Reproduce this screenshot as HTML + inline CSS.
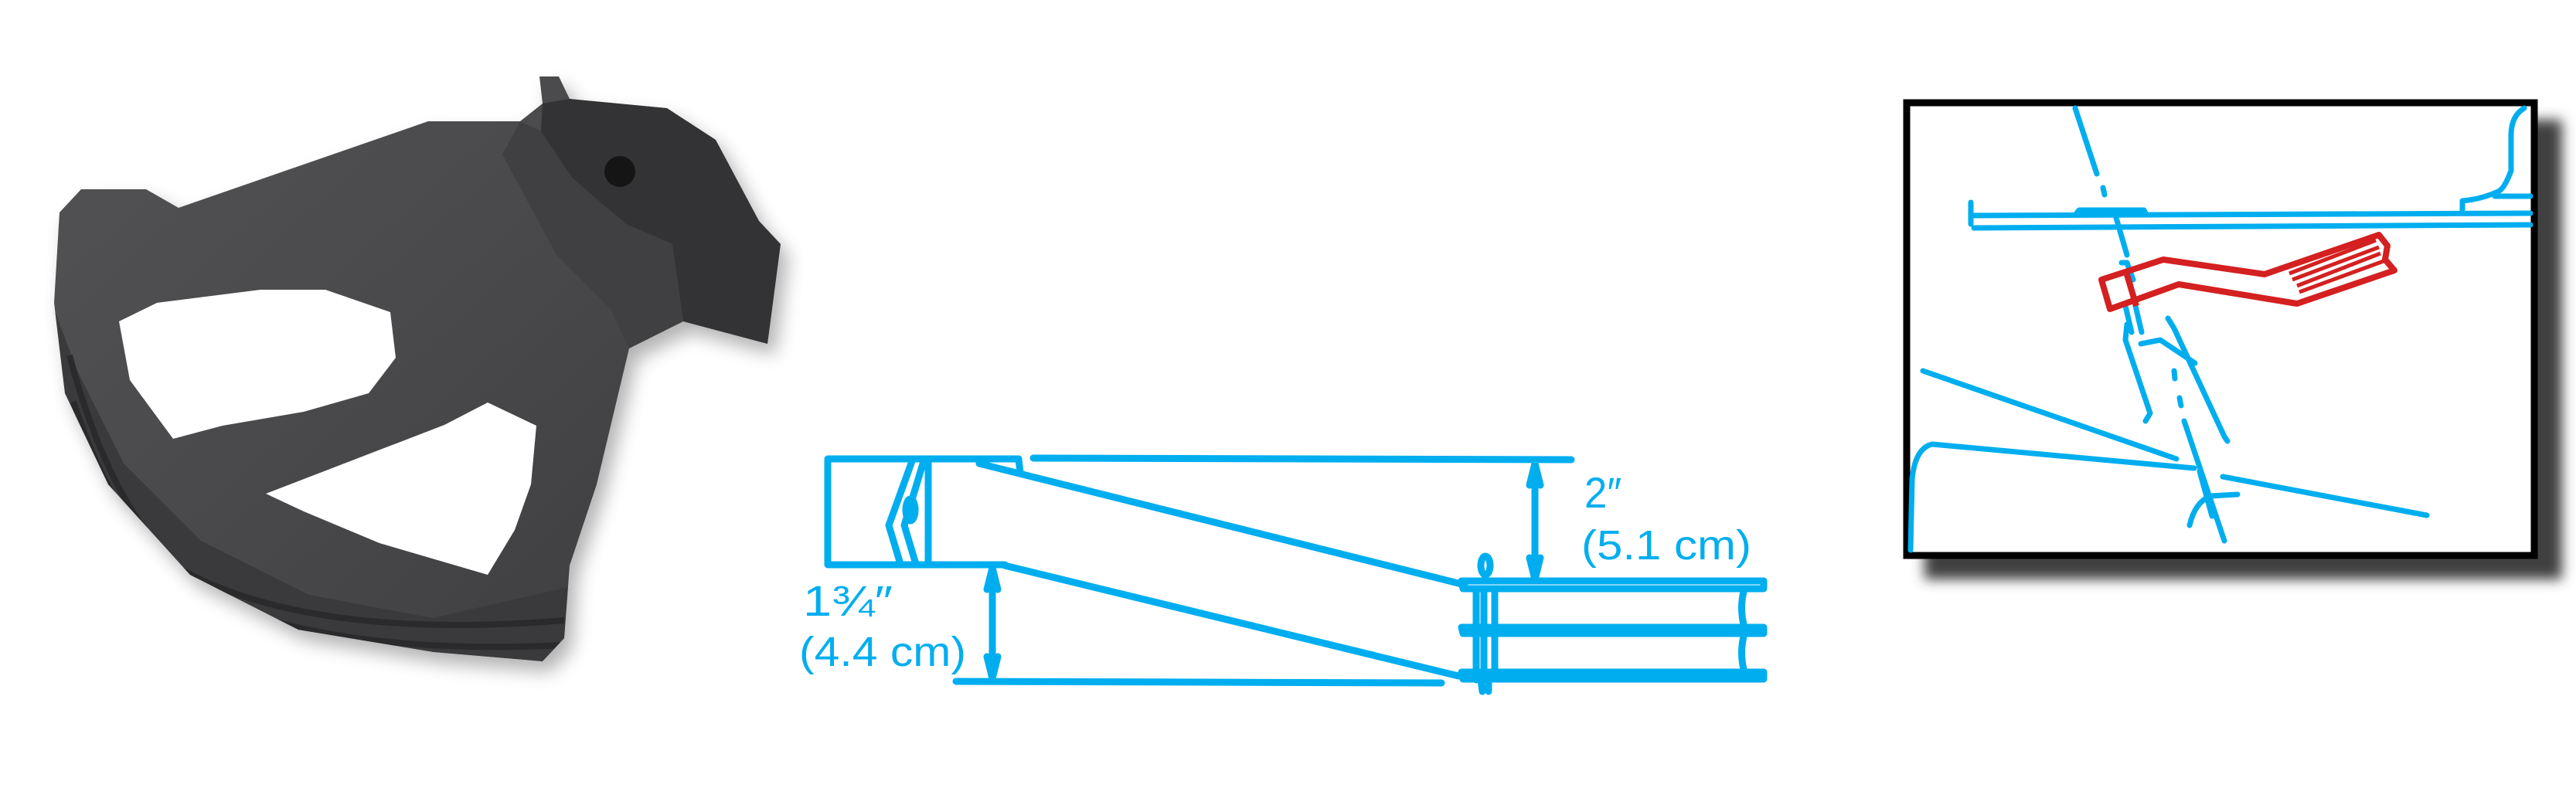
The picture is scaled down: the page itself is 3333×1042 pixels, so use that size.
<!DOCTYPE html>
<html><head><meta charset="utf-8"><style>
html,body{margin:0;padding:0;background:#fff;}
svg{display:block;}
</style></head><body>
<svg width="3333" height="1042" viewBox="0 0 3333 1042" xmlns="http://www.w3.org/2000/svg">
<defs>
<linearGradient id="g" x1="0" y1="0" x2="1" y2="1">
<stop offset="0" stop-color="#555557"/><stop offset="0.5" stop-color="#48484a"/><stop offset="1" stop-color="#38383a"/>
</linearGradient>
<filter id="sh" x="-20%" y="-20%" width="140%" height="140%"><feGaussianBlur stdDeviation="12"/></filter>
<filter id="sh2" x="-10%" y="-10%" width="130%" height="130%"><feGaussianBlur stdDeviation="8"/></filter>
<clipPath id="cp"><path id="outl" d="M105,245 L77,275 L70,392 L84,509 L140,627 L246,744 L386,815 L561,844 L702,856 L730,826 L737,732 L772,627 L814,451 L884,416 L993,445 L1010,316 L982,286 L926,181 L863,140 L737,128 L723,99 L698,99 L702,134 L673,157 L554,157 L231,269 L189,245 Z"/></clipPath>
</defs>

<!-- photo -->
<g>
<path d="M105,245 L77,275 L70,392 L84,509 L140,627 L246,744 L386,815 L561,844 L702,856 L730,826 L737,732 L772,627 L814,451 L884,416 L993,445 L1010,316 L982,286 L926,181 L863,140 L737,128 L723,99 L698,99 L702,134 L673,157 L554,157 L231,269 L189,245 Z" fill="#000" opacity="0.3" filter="url(#sh)" transform="translate(10,14)"/>
<g clip-path="url(#cp)">
<rect x="0" y="0" width="1100" height="1000" fill="url(#g)"/>
<path d="M70,400 L84,509 L140,627 L246,744 L386,815 L561,844 L702,856 L730,826 L735,760 L560,800 L400,770 L260,700 L160,600 L100,480 Z" fill="#3a3a3c"/>
<path d="M90,460 Q140,650 230,735 Q400,830 730,803" fill="none" stroke="#2a2a2c" stroke-width="8"/>
<path d="M95,520 Q150,690 250,765 Q420,850 730,835" fill="none" stroke="#2a2a2c" stroke-width="8"/>
<path d="M702,134 L737,128 L863,140 L926,181 L982,286 L1010,316 L993,445 L884,416 L870,316 L810,290 L740,230 L700,170 Z" fill="#333335"/>
<path d="M673,157 L700,170 L740,230 L810,290 L870,316 L884,416 L814,451 L790,400 L720,330 L650,200 Z" fill="#404042"/>
</g>
<path d="M154,416 L203,392 L337,375 L421,375 L505,404 L512,463 L477,509 L393,533 L288,551 L224,568 L168,492 Z" fill="#fff"/>
<path d="M344,639 L575,550 L631,521 L694,551 L687,627 L666,686 L631,744 L491,703 L393,662 Z" fill="#fff"/>
<circle cx="802" cy="222" r="20" fill="#151515"/>
</g>

<!-- diagram -->
<g fill="none" stroke="#00aeef" stroke-width="9" stroke-linecap="round" stroke-linejoin="round">
<rect x="1071" y="594" width="130" height="137"/>
<path d="M1180,597 L1150,680 L1165,730 M1195,597 L1170,680 L1185,730"/>
<ellipse cx="1178" cy="660" rx="6" ry="14"/>
<path d="M1201,594 L1318,594 L1320,612 M1201,731 L1300,731"/>
<path d="M1267,600 L1895,757"/>
<path d="M1300,732 L1887,875"/>
<path d="M1337,593 L2033,595"/>
<path d="M1237,882 L1865,884"/>
<path d="M1891,752 L2282,752 L2282,762 L1893,762 Z"/>
<path d="M1891,812 L2282,812 L2282,820 L1893,820 Z"/>
<path d="M1891,870 L2282,870 L2282,879 L1893,879 Z"/>
<path d="M1934,762 L1934,812 M1934,820 L1934,870 M2257,762 Q2250,787 2257,812 M2257,820 Q2250,845 2257,870"/>
<path d="M1910,762 L1910,880 M1920,762 L1920,880"/>
<ellipse cx="1922" cy="732" rx="6" ry="12"/>
<path d="M1916,880 L1918,895 M1926,880 L1926,895"/>
<path d="M1986,600 L1986,750"/>
<path d="M1979,628 L1986,600 L1993,628 M1979,722 L1986,750 L1993,722"/>
<path d="M1284,735 L1284,878"/>
<path d="M1277,763 L1284,735 L1291,763 M1277,850 L1284,878 L1291,850"/>
</g>
<g fill="#00aeef" font-family="'Liberation Sans',sans-serif">
<text x="2050" y="657" font-size="56" textLength="48" lengthAdjust="spacingAndGlyphs">2″</text>
<text x="2046" y="724" font-size="54" textLength="220" lengthAdjust="spacingAndGlyphs">(5.1 cm)</text>
<text x="1039" y="797" font-size="56" textLength="116" lengthAdjust="spacingAndGlyphs">1¾″</text>
<text x="1034" y="862" font-size="54" textLength="216" lengthAdjust="spacingAndGlyphs">(4.4 cm)</text>
</g>

<!-- right panel -->
<rect x="2490" y="155" width="825" height="595" fill="#404040" filter="url(#sh2)"/>
<rect x="2467" y="133" width="812" height="586" fill="#fff" stroke="#000" stroke-width="9"/>
<g fill="none" stroke="#00aeef" stroke-width="7" stroke-linecap="round" stroke-linejoin="round">
<path d="M2554,279 L3274,276 M2554,295 L3274,291"/>
<path d="M2550,262 L2550,290"/>
<path d="M2685,140 L2713,225 M2721,243 L2723,252 M2736,275 L2752,330"/>
<path d="M3266,140 Q3249,150 3249,175 L3249,221 Q3240,245 3232,248 Q3210,258 3186,260 L3186,276 M3228,254 L3274,254"/>
<path d="M2686,277 L2690,272 L2774,272 L2777,278"/>
<path d="M2745,340 L2752,340 L2760,362 M2750,396 L2758,430 M2763,396 L2771,430"/>
<path d="M2752,420 L2750,440 L2782,535 L2776,545 M2805,412 L2813,425 L2878,565 L2882,571"/>
<path d="M2770,445 L2795,440 L2840,470"/>
<path d="M2813,480 L2814,490 M2820,515 L2822,525 M2826,545 L2878,700"/>
<path d="M2488,480 L2816,594"/>
<path d="M2472,712 L2474,620 Q2478,580 2500,575 L2839,606"/>
<path d="M2876,617 L3140,667"/>
<path d="M2833,680 Q2840,650 2860,642 L2895,640 M2846,610 L2862,668"/>
</g>
<g fill="none" stroke="#d42020" stroke-width="8" stroke-linejoin="round">
<path d="M2719,362 L2799,336 L2930,355 L3078,304 L3089,318 L3086,336 L3098,350 L2972,393 L2819,368 L2730,400 Z"/>
<path d="M2962,354 L3074,311 M2966,362 L3078,320 M2972,370 L3080,328 M2975,378 L3084,338" stroke-width="5"/>
<path d="M2751,352 L2764,396"/>
</g>
</svg>
</body></html>
